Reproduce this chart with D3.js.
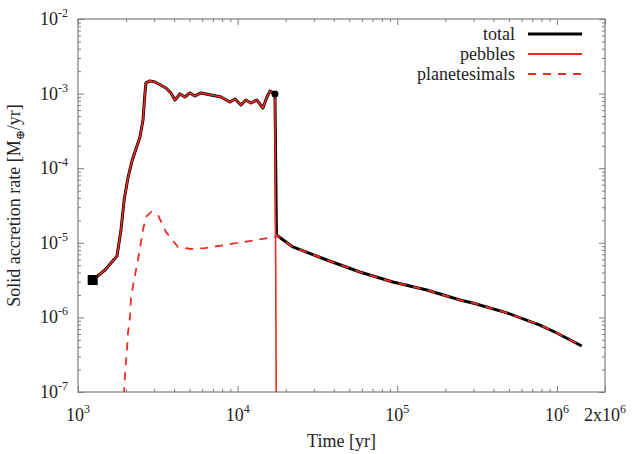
<!DOCTYPE html>
<html>
<head>
<meta charset="utf-8">
<script src="https://cdn.jsdelivr.net/npm/d3@7"></script>
<style>
  body { margin: 0; background: #fff; }
  text { font-family: "Liberation Serif", "Times New Roman", "DejaVu Serif", serif; }
</style>
</head>
<body>
<div id="chart"></div>
<script>
/* values */
var totalTime = [1236, 1476, 1755, 1859, 1950, 2060, 2190, 2445, 2553, 2628, 2665, 2824, 3035, 3556, 3822, 4048,
  4352, 4677, 5027, 5403, 5891, 6805, 7860, 8950, 9620, 10490, 11270, 12110, 13210, 14400, 15260, 15930, 17130,
  17500, 22200, 36200, 58300, 93800, 153000, 247000, 297000, 486000, 782000, 998000, 1430000];
var totalRate = [3.17e-6, 4.32e-6, 6.65e-6, 1.49e-5, 3.9e-5, 7.6e-5, 1.3e-4, 2.62e-4, 4.43e-4, 1.02e-3, 1.39e-3,
  1.48e-3, 1.43e-3, 1.19e-3, 1.02e-3, 8.2e-4, 9.9e-4, 9.0e-4, 1.02e-3, 9.3e-4, 1.02e-3, 9.57e-4, 9.0e-4, 7.71e-4,
  8.47e-4, 7.03e-4, 8.2e-4, 7.48e-4, 8.2e-4, 6.41e-4, 9.0e-4, 1.08e-3, 9.9e-4,
  1.27e-5, 8.8e-6, 5.88e-6, 4.06e-6, 2.98e-6, 2.33e-6, 1.71e-6, 1.56e-6, 1.15e-6, 7.9e-7, 6.18e-7, 4.14e-7];

var pebbleTime = [1236, 1476, 1755, 1859, 1950, 2060, 2190, 2445, 2553, 2628, 2665, 2824, 3035, 3556, 3822, 4048,
  4352, 4677, 5027, 5403, 5891, 6805, 7860, 8950, 9620, 10490, 11270, 12110, 13210, 14400, 15260, 15930, 17130,
  17600];
var pebbleRate = [3.17e-6, 4.32e-6, 6.65e-6, 1.49e-5, 3.9e-5, 7.6e-5, 1.3e-4, 2.62e-4, 4.43e-4, 1.02e-3, 1.39e-3,
  1.48e-3, 1.43e-3, 1.19e-3, 1.02e-3, 8.2e-4, 9.9e-4, 9.0e-4, 1.02e-3, 9.3e-4, 1.02e-3, 9.57e-4, 9.0e-4, 7.71e-4,
  8.47e-4, 7.03e-4, 8.2e-4, 7.48e-4, 8.2e-4, 6.41e-4, 9.0e-4, 1.08e-3, 9.9e-4,
  1e-9];

var planTime = [1914, 1978, 2027, 2056, 2117, 2147, 2243, 2375, 2553, 2665, 2865, 3170, 3556, 4227, 5100, 6240,
  8325, 12110, 17130, 17500, 22200, 36200, 58300, 93800, 153000, 247000, 297000, 486000, 782000, 998000, 1430000];
var planRate = [5.7e-8, 1.97e-7, 3.66e-7, 6.18e-7, 1.01e-6, 1.82e-6, 3.17e-6, 5.88e-6, 1.49e-5, 2.22e-5, 2.59e-5,
  2.36e-5, 1.40e-5, 8.8e-6, 8.26e-6, 8.51e-6, 9.35e-6, 1.06e-5, 1.20e-5, 1.27e-5, 8.8e-6, 5.88e-6, 4.06e-6,
  2.98e-6, 2.33e-6, 1.71e-6, 1.56e-6, 1.15e-6, 7.9e-7, 6.18e-7, 4.14e-7];

var xMajor = [1e3, 1e4, 1e5, 1e6, 2e6];
var xMajorExp = ['3', '4', '5', '6', '6'];
var xMajorPre = ['10', '10', '10', '10', '2x10'];
var yMajor = [1e-7, 1e-6, 1e-5, 1e-4, 1e-3, 1e-2];
var yMajorExp = ['-7', '-6', '-5', '-4', '-3', '-2'];
var legendNames = ['total', 'pebbles', 'planetesimals'];

var width = 637, height = 454;
var margin = {t: 19, r: 32, b: 62, l: 78};
var red = '#ec2b23', frameColor = '#7d7d7d', textColor = '#222';
var serif = '"Liberation Serif", "Times New Roman", "DejaVu Serif", serif';

var svg = d3.select('#chart')
  .append('svg')
  .attr('width', width)
  .attr('height', height)
  .attr('font-family', serif)
  .style('display', 'block');

var x = d3.scaleLog().domain([1e3, 2e6]).range([margin.l, width - margin.r]);
var y = d3.scaleLog().domain([1e-7, 1e-2]).range([height - margin.b, margin.t]);

svg.append('clipPath').attr('id', 'plotclip')
  .append('rect')
  .attr('x', x.range()[0]).attr('y', y.range()[1])
  .attr('width', x.range()[1] - x.range()[0])
  .attr('height', y.range()[0] - y.range()[1]);

// minor ticks
var xMinor = [];
[1e3, 1e4, 1e5, 1e6].forEach(function(d) {
  for (var k = 2; k <= 9; k++) if (d * k < 2e6) xMinor.push(d * k);
});
var yMinor = [];
[1e-7, 1e-6, 1e-5, 1e-4, 1e-3].forEach(function(d) {
  for (var k = 2; k <= 9; k++) yMinor.push(d * k);
});

function tickAxis(axisFn, scale, values, size, tr) {
  var g = svg.append('g')
    .attr('transform', tr)
    .call(axisFn(scale).tickValues(values).tickSize(size).tickFormat(''));
  g.select('.domain').remove();
  g.selectAll('line').attr('stroke', frameColor);
}
var x0 = x.range()[0], x1 = x.range()[1], y0 = y.range()[0], y1 = y.range()[1];
tickAxis(d3.axisBottom, x, xMajor, -6, 'translate(0,' + y0 + ')');
tickAxis(d3.axisBottom, x, xMinor, -3, 'translate(0,' + y0 + ')');
tickAxis(d3.axisTop, x, xMajor, -6, 'translate(0,' + y1 + ')');
tickAxis(d3.axisTop, x, xMinor, -3, 'translate(0,' + y1 + ')');
tickAxis(d3.axisLeft, y, yMajor, -6, 'translate(' + x0 + ',0)');
tickAxis(d3.axisLeft, y, yMinor, -3, 'translate(' + x0 + ',0)');
tickAxis(d3.axisRight, y, yMajor, -6, 'translate(' + x1 + ',0)');
tickAxis(d3.axisRight, y, yMinor, -3, 'translate(' + x1 + ',0)');

svg.append('rect')
  .attr('x', x0).attr('y', y1)
  .attr('width', x1 - x0).attr('height', y0 - y1)
  .style('fill', 'none')
  .style('stroke', frameColor)
  .style('stroke-width', '1.2px');

// tick labels
xMajor.forEach(function(d, i) {
  var t = svg.append('text')
    .attr('x', x(d)).attr('y', 421)
    .attr('text-anchor', 'middle')
    .style('font-family', serif)
    .style('font-size', '18px').style('fill', textColor);
  t.append('tspan').text(xMajorPre[i]);
  t.append('tspan').attr('dy', -8).style('font-size', '12px').text(xMajorExp[i]);
});
yMajor.forEach(function(d, i) {
  var t = svg.append('text')
    .attr('x', 68).attr('y', y(d) + 6)
    .attr('text-anchor', 'end')
    .style('font-family', serif)
    .style('font-size', '18px').style('fill', textColor);
  t.append('tspan').text('10');
  t.append('tspan').attr('dy', -8).style('font-size', '12px').text(yMajorExp[i]);
});

// axis titles
svg.append('text')
  .attr('x', (x0 + x1) / 2).attr('y', 447)
  .attr('text-anchor', 'middle')
  .style('font-family', serif)
  .style('font-size', '18px').style('fill', textColor)
  .text('Time [yr]');

var yt = svg.append('text')
  .attr('transform', 'translate(20,' + ((y0 + y1) / 2) + ') rotate(-90)')
  .attr('text-anchor', 'middle')
  .style('font-family', serif)
  .style('font-size', '18px').style('fill', textColor);
yt.append('tspan').text('Solid accretion rate [M');
yt.append('tspan').attr('dy', 4).style('font-size', '12px').text('⊕');
yt.append('tspan').attr('dy', -4).text('/yr]');

// lines
function series(xs, ys) {
  return xs.map(function(d, i) { return [d, ys[i]]; });
}
var line = d3.line().x(function(d) { return x(d[0]); }).y(function(d) { return y(d[1]); });
var plot = svg.append('g').attr('clip-path', 'url(#plotclip)');

plot.append('path')
  .datum(series(totalTime, totalRate))
  .attr('d', line)
  .style('fill', 'none').style('stroke', '#000').style('stroke-width', '3px')
  .style('stroke-linejoin', 'round');

plot.append('path')
  .datum(series(pebbleTime, pebbleRate))
  .attr('d', line)
  .style('fill', 'none').style('stroke', red).style('stroke-width', '1.6px')
  .style('stroke-linejoin', 'round');

plot.append('path')
  .datum(series(planTime, planRate))
  .attr('d', line)
  .style('fill', 'none').style('stroke', red).style('stroke-width', '1.8px')
  .style('stroke-dasharray', '8,7');

// markers
svg.append('rect')
  .attr('x', x(totalTime[0]) - 5).attr('y', y(totalRate[0]) - 5)
  .attr('width', 10).attr('height', 10)
  .style('fill', '#000');
svg.append('circle')
  .attr('cx', x(totalTime[32])).attr('cy', y(totalRate[32]))
  .attr('r', 3.5)
  .style('fill', '#000');

// legend
var legendStyle = [
  {stroke: '#000', w: 3, dash: null},
  {stroke: red, w: 1.8, dash: null},
  {stroke: red, w: 1.8, dash: '8,7'}
];
legendNames.forEach(function(name, i) {
  var g = svg.append('g').attr('transform', 'translate(0,' + (34 + i * 20) + ')');
  g.append('text')
    .attr('x', 515).attr('y', 6)
    .attr('text-anchor', 'end')
    .style('font-family', serif)
    .style('font-size', '18px').style('fill', textColor)
    .text(name);
  g.append('line')
    .attr('x1', 528).attr('x2', 582)
    .style('stroke', legendStyle[i].stroke)
    .style('stroke-width', legendStyle[i].w + 'px')
    .style('stroke-dasharray', legendStyle[i].dash);
});
</script>
</body>
</html>
